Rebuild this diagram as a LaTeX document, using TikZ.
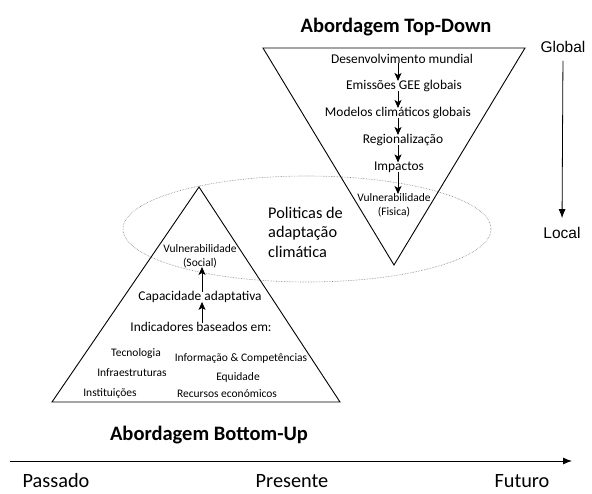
\documentclass[tikz,border=0pt]{standalone}
\usepackage{fontspec}
\setmainfont{Carlito}
\newfontfamily\arialfont{Liberation Sans}
\usetikzlibrary{arrows.meta,positioning}

\begin{document}
\begin{tikzpicture}[
  x=1pt, y=1pt,
  every node/.style={inner sep=1pt},
  title/.style={font=\fontsize{20.5}{24}\selectfont\bfseries},
  stage/.style={font=\fontsize{13.4}{16}\selectfont},
  small/.style={font=\fontsize{11.5}{14}\selectfont, align=center},
  policy/.style={font=\fontsize{16.3}{19.5}\selectfont, align=left, anchor=west},
  scale label/.style={font=\arialfont\fontsize{15.5}{18}\selectfont},
  time label/.style={font=\fontsize{20.3}{24}\selectfont},
  tri/.style={draw, line width=0.9pt, line join=miter},
  flow/.style={draw, ->, line width=0.8pt, shorten <=-2pt, shorten >=-2pt,
    >={Stealth[length=8pt,width=7pt,inset=2pt]}},
  axis/.style={draw, ->, line width=0.8pt, >={Latex[length=9pt,width=7pt]}}
]
\useasboundingbox (0,0) rectangle (592,-494);

% Policy ellipse
\draw[densely dotted, gray, line width=0.6pt] (307,-229) ellipse [x radius=184, y radius=53];
\node[policy] (pol) at (267,-232) {Politicas de\\adaptação\\climática};

% Top-Down approach
\draw[tri] (263,-48) -- (525,-48) -- (394,-265) -- cycle;
\node[title] (tdtitle) at (396,-27) {Abordagem Top-Down};
\coordinate (tdaxis) at (398,0);
\node[stage] (dm) at (402,-59) {Desenvolvimento mundial};
\node[stage] (gee) at (404,-86) {Emissões GEE globais};
\node[stage] (mod) at (398,-113) {Modelos climáticos globais};
\node[stage] (reg) at (403,-140) {Regionalização};
\node[stage] (imp) at (399,-167) {Impactos};
\node[small] (vfis) at (394,-205) {Vulnerabilidade\\(Fisica)};
\draw[flow] (dm.south -| tdaxis) -- (gee.north -| tdaxis);
\draw[flow] (gee.south -| tdaxis) -- (mod.north -| tdaxis);
\draw[flow] (mod.south -| tdaxis) -- (reg.north -| tdaxis);
\draw[flow] (reg.south -| tdaxis) -- (imp.north -| tdaxis);
\draw[flow] (imp.south -| tdaxis) -- (vfis.north -| tdaxis);

% Global / Local
\node[scale label] (glob) at (563,-47) {Global};
\node[scale label] (loc) at (562,-233) {Local};
\draw[axis, shorten <=7pt, shorten >=8pt] (glob.south) -- (loc.north);

% Bottom-Up approach
\draw[tri] (199,-187) -- (52,-402) -- (340,-402) -- cycle;
\node[small] (vsoc) at (200,-256) {Vulnerabilidade\\(Social)};
\node[stage] (cap) at (200,-297) {Capacidade adaptativa};
\node[stage] (ind) at (201,-327) {Indicadores baseados em:};
\coordinate (buaxis) at (202,0);
\draw[flow] (cap.north -| buaxis) -- (vsoc.south -| buaxis);
\draw[flow] (ind.north -| buaxis) -- (cap.south -| buaxis);
\node[small] (tec) at (136,-353) {Tecnologia};
\node[small] (inf) at (132,-373) {Infraestruturas};
\node[small] (ins) at (110,-393) {Instituições};
\node[small] (ic) at (241,-359) {Informação \& Competências};
\node[small] (eq) at (238,-377) {Equidade};
\node[small] (rec) at (227,-394) {Recursos económicos};
\node[title] (butitle) at (209,-435) {Abordagem Bottom-Up};

% Time axis
\coordinate (past) at (10,-461);
\coordinate (future) at (572,-461);
\draw[axis, line width=0.9pt] (past) -- (future);
\node[time label] (pas) at (56,-481) {Passado};
\node[time label] (pre) at (292,-481) {Presente};
\node[time label] (fut) at (522,-481) {Futuro};

\end{tikzpicture}
\end{document}
